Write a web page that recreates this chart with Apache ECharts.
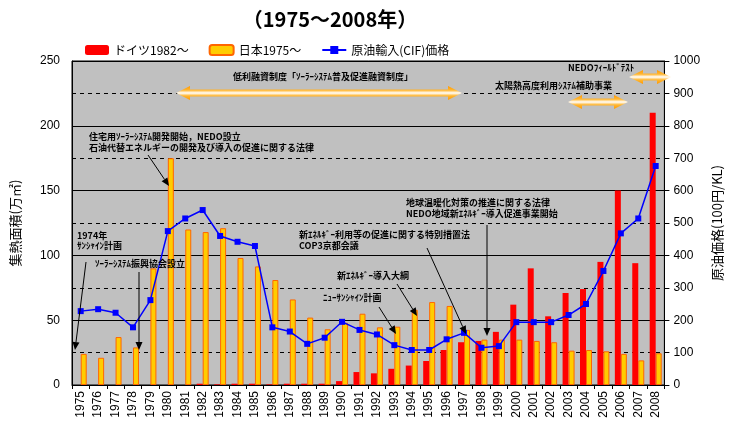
<!DOCTYPE html>
<html>
<head>
<meta charset="utf-8">
<script src="https://cdn.jsdelivr.net/npm/echarts@6/dist/echarts.min.js"></script>
<style>
html,body{margin:0;padding:0;background:#fff;}
#main{width:732px;height:430px;}
</style>
</head>
<body>
<div id="main"></div>
<script>
// 年
var years = ['1975','1976','1977','1978','1979','1980','1981','1982','1983','1984','1985','1986','1987','1988','1989','1990','1991',
             '1992','1993','1994','1995','1996','1997','1998','1999','2000','2001','2002','2003','2004','2005','2006','2007','2008'];
// ドイツ 集熱面積(万㎡)
var germany = [null,null,null,null,null,null,null,1,0.5,1,1,0.5,1,1,1,3,10,
               9,12.5,15,18.5,27,33,34,41,62,90,53,71,74,95,150,94,210];
// 日本 集熱面積(万㎡)
var japan = [24,21,37,29,90,175,120,118,121,98,91.5,81,66,52,43,48,55,
             44.5,45,58,64,61,42.5,35,35,35,34,33,26.5,27,26,24,19,24.5];
// 原油輸入(CIF)価格 (100円/KL)
var oilPrice = [228,234,223,178,262,475,514,540,460,442,429,178,165,127,146,195,170,
                156,123,108,108,141,161,115,120,194,194,194,216,250,352,468,514,676];

var jpFont = "'Noto Sans CJK JP', sans-serif";
var numFont = "'Liberation Sans', 'Noto Sans CJK JP', sans-serif";

//黒い矢印
function arrow(x1, y1, x2, y2) {
    var a = Math.atan2(y2 - y1, x2 - x1), L = 8, W = 3.5;
    var bx = x2 - L * Math.cos(a), by = y2 - L * Math.sin(a);
    return [
        {type: 'line', z: 100, shape: {x1: x1, y1: y1, x2: bx, y2: by}, style: {stroke: '#000', lineWidth: 1}},
        {type: 'polygon', z: 100, shape: {points: [[x2, y2], [bx + W * Math.sin(a), by - W * Math.cos(a)], [bx - W * Math.sin(a), by + W * Math.cos(a)]]},
         style: {fill: '#000'}}
    ];
}
//オレンジの両矢印
function wideArrow(x1, x2, y) {
    var h = 14, s = 3.5, w = 7;
    return {
        type: 'polygon', z: 100,
        shape: {points: [[x1, y], [x1 + h, y - w], [x1 + h, y - s], [x2 - h, y - s], [x2 - h, y - w], [x2, y],
                         [x2 - h, y + w], [x2 - h, y + s], [x1 + h, y + s], [x1 + h, y + w]]},
        style: {fill: new echarts.graphic.LinearGradient(0, 0, 0, 1, [
            {offset: 0, color: '#FF9900'}, {offset: 0.3, color: '#FFB733'}, {offset: 0.5, color: '#FFFFFF'},
            {offset: 0.7, color: '#FFB733'}, {offset: 1, color: '#FF9900'}])}
    };
}
function note(txt, x, y) {
    return {type: 'text', z: 100, style: {text: txt, x: x, y: y, fill: '#000', verticalAlign: 'middle',
            fontSize: 9, fontWeight: 'bold', fontFamily: jpFont}};
}

var graphics = [
    {type: 'text', z: 100, style: {text: '（1975～2008年）', x: 330, y: 19, align: 'center', verticalAlign: 'middle',
        fontSize: 20, fontWeight: 'bold', fontFamily: jpFont, fill: '#000'}},
    wideArrow(176, 462, 93),
    wideArrow(568, 628, 102),
    wideArrow(629, 671, 77),
    note('低利融資制度「ｿｰﾗｰｼｽﾃﾑ普及促進融資制度」', 233, 77),
    note('NEDOﾌｨｰﾙﾄﾞﾃｽﾄ', 568, 68),
    note('太陽熱高度利用ｼｽﾃﾑ補助事業', 495, 86),
    note('住宅用ｿｰﾗｰｼｽﾃﾑ開発開始，NEDO設立', 89, 137),
    note('石油代替エネルギーの開発及び導入の促進に関する法律', 89, 148),
    note('1974年', 77, 236),
    note('ｻﾝｼｬｲﾝ計画', 77, 246),
    note('ｿｰﾗｰｼｽﾃﾑ振興協会設立', 95, 264),
    note('新ｴﾈﾙｷﾞｰ利用等の促進に関する特別措置法', 299, 235),
    note('COP3京都会議', 299, 246),
    note('新ｴﾈﾙｷﾞｰ導入大綱', 337, 276),
    note('ﾆｭｰｻﾝｼｬｲﾝ計画', 323, 298),
    note('地球温暖化対策の推進に関する法律', 406, 203),
    note('NEDO地域新ｴﾈﾙｷﾞｰ導入促進事業開始', 406, 214)
];
graphics = graphics.concat(
    arrow(148, 155, 169, 186),
    arrow(86, 262, 75, 350),
    arrow(139, 272, 139, 350),
    arrow(427, 248, 466, 334),
    arrow(397, 284, 417, 316),
    arrow(379, 307, 396, 334),
    arrow(487, 225, 487, 336)
);

var myChart = echarts.init(document.getElementById('main'));
var option = {
    animation: false,
    textStyle: {fontFamily: numFont},
    legend: {
        top: 39, left: 80,
        itemWidth: 24, itemHeight: 10, itemGap: 20,
        textStyle: {fontSize: 12, color: '#000', fontFamily: jpFont},
        data: ['ドイツ1982～', '日本1975～', '原油輸入(CIF)価格']
    },
    grid: {left: 72, right: 59, top: 61, bottom: 45, show: true, backgroundColor: '#C0C0C0', borderColor: '#000', borderWidth: 1},
    xAxis: {
        type: 'category', data: years,
        axisLine: {lineStyle: {color: '#000'}},
        axisTick: {show: true, length: 4, lineStyle: {color: '#000'}},
        axisLabel: {rotate: 90, interval: 0, fontSize: 12, color: '#000', margin: 6}
    },
    yAxis: [
        {
            type: 'value', min: 0, max: 250, interval: 50, position: 'left',
            name: '集熱面積(万㎡)', nameLocation: 'middle', nameGap: 50, nameRotate: 90,
            nameTextStyle: {fontSize: 13, color: '#000', fontFamily: jpFont},
            axisLine: {show: true, lineStyle: {color: '#000'}},
            axisTick: {show: false},
            axisLabel: {fontSize: 12, color: '#000', margin: 12},
            splitLine: {show: true, lineStyle: {color: '#000', width: 1}}
        },
        {
            type: 'value', min: 0, max: 1000, interval: 100, position: 'right',
            name: '原油価格(100円/KL)', nameLocation: 'middle', nameGap: 30, nameRotate: 90,
            nameTextStyle: {fontSize: 13, color: '#000', fontFamily: jpFont},
            axisLine: {show: true, lineStyle: {color: '#000'}},
            axisTick: {show: true, length: 5, lineStyle: {color: '#000'}},
            axisLabel: {fontSize: 12, color: '#000', margin: 9, formatter: function (v) { return String(v); }},
            splitLine: {show: true, lineStyle: {color: '#000', width: 1, type: [4, 4]}}
        }
    ],
    series: [
        {name: 'ドイツ1982～', type: 'bar', data: germany, barWidth: 6, barGap: '0%',
         itemStyle: {color: '#FF0000'}},
        {name: '日本1975～', type: 'bar', data: japan, barWidth: 6, barGap: '0%',
         itemStyle: {color: '#FFCC00', borderColor: '#FF6600', borderWidth: 1}},
        {name: '原油輸入(CIF)価格', type: 'line', yAxisIndex: 1, data: oilPrice,
         symbol: 'rect', symbolSize: 6,
         itemStyle: {color: '#0000FF'}, lineStyle: {color: '#0000FF', width: 1.5}}
    ],
    graphic: graphics
};
myChart.setOption(option);
</script>
</body>
</html>
